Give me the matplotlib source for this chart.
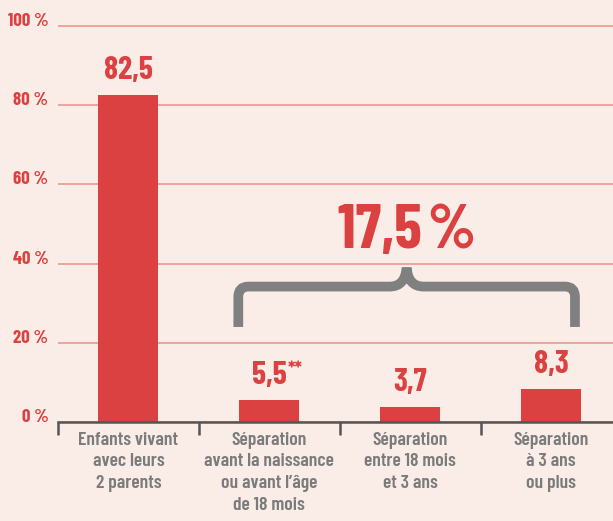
import matplotlib.pyplot as plt
from matplotlib.path import Path
from matplotlib.patches import PathPatch
from matplotlib.ticker import FixedLocator

categories = ["Enfants vivant\navec leurs\n2 parents",
              "Séparation\navant la naissance\nou avant l’âge\nde 18 mois",
              "Séparation\nentre 18 mois\net 3 ans",
              "Séparation\nà 3 ans\nou plus"]
values = [82.5, 5.5, 3.7, 8.3]
value_labels = ["82,5", "5,5", "3,7", "8,3"]
label_suffix = ["", "**", "", ""]
y_ticks = [0, 20, 40, 60, 80, 100]
y_tick_labels = ["0 %", "20 %", "40 %", "60 %", "80 %", "100 %"]
total_label = "17,5\u200a%"

BG = '#FAEDE8'
RED = '#DC4141'
GRID = '#EC8F8A'
GREY = '#7B7B7B'
FONT = ['Barlow Condensed', 'DejaVu Sans']

plt.rcParams['font.family'] = FONT
plt.rcParams['font.weight'] = 600

fig = plt.figure(figsize=(6.13, 5.21), dpi=100, facecolor=BG)
ax = fig.add_axes([58/613, 99/521, 1 - 58/613, 102*3.96/521])
ax.set_facecolor(BG)

x = list(range(len(values)))
ax.bar(x, values, width=0.425, color=RED, zorder=3)

for i, v in enumerate(values):
    t = ax.annotate(value_labels[i], (i, v), xytext=(0, 11.5), textcoords='offset points',
                    ha='center', va='baseline', fontsize=23, color=RED, fontweight='bold', zorder=4)
    if label_suffix[i]:
        ax.annotate(label_suffix[i], xy=(1, 1), xycoords=t, xytext=(1, 0), textcoords='offset points',
                    ha='left', va='top', fontsize=15, color=RED, fontweight='bold')

ax.set_xlim(-0.5, 3.44)
ax.set_ylim(0, 102)

ax.set_yticks(y_ticks)
ax.set_yticklabels(y_tick_labels, fontsize=13.5, color=RED, fontweight='bold', va='baseline')
ax.tick_params(axis='y', length=0, pad=7)
ax.grid(axis='y', color=GRID, linewidth=1.1, zorder=0)

ax.set_xticks(x)
ax.set_xticklabels(categories, fontsize=14, color=GREY, fontweight=600, linespacing=1.36)
ax.tick_params(axis='x', which='major', length=0, pad=7)
ax.xaxis.set_minor_locator(FixedLocator([-0.5, 0.5, 1.5, 2.5, 3.5]))
ax.tick_params(axis='x', which='minor', length=9, width=1.8, color='#555555', direction='out')

for s in ['top', 'right', 'left']:
    ax.spines[s].set_visible(False)
ax.spines['bottom'].set_color('#555555')
ax.spines['bottom'].set_linewidth(1.8)
ax.spines['bottom'].set_zorder(5)

# brace over the three separation bars
xl, xr, xm = 0.78, 3.17, 1.975
yh, yb, yt = 34.2, 24.0, 39.0
verts = [(xl, yb), (xl, yh - 2.6), (xl, yh), (xl + 0.07, yh),
         (xm - 0.12, yh), (xm - 0.01, yh), (xm, yt),
         (xm, yt), (xm + 0.01, yh), (xm + 0.12, yh),
         (xr - 0.07, yh), (xr, yh), (xr, yh - 2.6), (xr, yb)]
codes = [Path.MOVETO, Path.LINETO, Path.CURVE3, Path.CURVE3,
         Path.LINETO, Path.CURVE3, Path.CURVE3,
         Path.MOVETO, Path.CURVE3, Path.CURVE3,
         Path.LINETO, Path.CURVE3, Path.CURVE3, Path.LINETO]
ax.add_patch(PathPatch(Path(verts, codes), facecolor='none', edgecolor='#808080',
                       linewidth=7, capstyle='butt', joinstyle='round', zorder=4))

ax.text(xm, 44, total_label, ha='center', va='baseline', fontsize=45, color=RED, fontweight='bold')

fig.savefig('out.png', dpi=100, facecolor=BG)
